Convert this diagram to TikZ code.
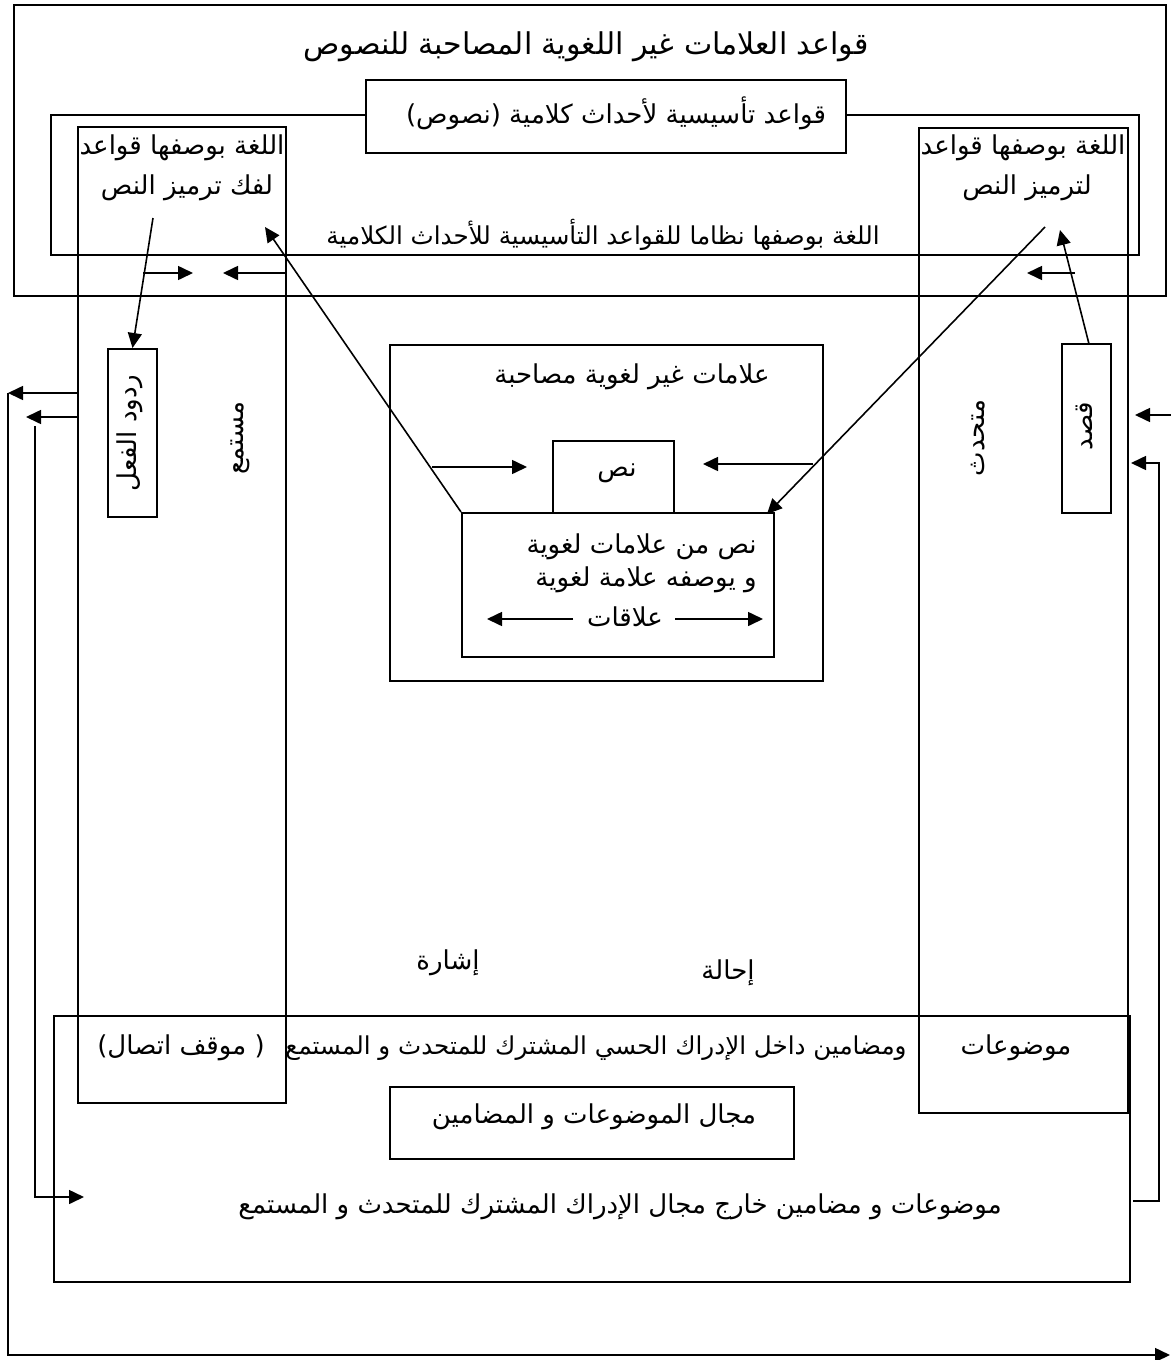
\documentclass[tikz,border=0pt]{standalone}
\usepackage{fontspec}
\usetikzlibrary{arrows.meta,fit}
\newfontfamily\arfont[Script=Arabic]{DejaVu Sans}
\newfontfamily\plainsans{DejaVu Sans}
\TeXXeTstate=1
\tikzset{
  bx/.style={draw, line width=1pt, inner sep=0pt},
  wbx/.style={bx, fill=white},
  con/.style={line width=0.8pt},
  arr/.style={con, -{Triangle[length=7.5pt,width=7pt]}},
  txt/.style={inner sep=0pt, font=\arfont\fontsize{13}{15}\selectfont},
  smalltxt/.style={inner sep=0pt, font=\arfont\fontsize{12.3}{15}\selectfont},
  big/.style={inner sep=0pt, font=\arfont\fontsize{15}{17}\selectfont},
}
\begin{document}
\begin{tikzpicture}[x=0.5pt,y=-0.5pt]
\useasboundingbox (0,0) rectangle (1171,1360);
% boxes
\node[bx, fit={(14,5) (1166,296)}] (top) {};
\node[bx, fit={(51,115) (1139,255)}] (wide) {};
\node[wbx, fit={(366,80) (846,153)}] (qaw) {};
\node[bx, fit={(78,127) (286,1103)}] (ltall) {};
\node[bx, fit={(919,128) (1128,1113)}] (rtall) {};
\node[bx, fit={(108,349) (157,517)}] (rud) {};
\node[bx, fit={(1062,344) (1111,513)}] (qasd) {};
\node[bx, fit={(390,345) (823,681)}] (cen) {};
\node[bx, fit={(553,441) (674,513)}] (nass) {};
\node[bx, fit={(462,513) (774,657)}] (inner) {};
\node[bx, fit={(54,1016) (1130,1282)}] (bot) {};
\node[bx, fit={(390,1087) (794,1159)}] (majal) {};
% texts
\node[big] (t1) at (586,47) {\beginR قواعد العلامات غير اللغوية المصاحبة للنصوص\endR};
\node[txt] (t2) at (616,113) {\beginR قواعد تأسيسية لأحداث كلامية (نصوص)\endR};
\node[smalltxt] (t3) at (603,235) {\beginR اللغة بوصفها نظاما للقواعد التأسيسية للأحداث الكلامية\endR};
\node[txt] (t4a) at (182,148) {\beginR اللغة بوصفها قواعد\endR};
\node[txt] (t4b) at (187,188) {\beginR لفك ترميز النص\endR};
\node[txt] (t5a) at (1023,148) {\beginR اللغة بوصفها قواعد\endR};
\node[txt] (t5b) at (1027,188) {\beginR لترميز النص\endR};
\node[txt] (t6) at (632,377) {\beginR علامات غير لغوية مصاحبة\endR};
\node[txt] (t7) at (617,473) {\beginR نص\endR};
\node[txt, anchor=east] (t8) at (757,547) {\beginR نص من علامات لغوية\endR};
\node[txt, anchor=east] (t9) at (757,580) {\beginR و يوصفه علامة لغوية\endR};
\node[txt] (t10) at (625,617) {\beginR علاقات\endR};
\node[txt, rotate=90] (t11) at (130,433) {\beginR ردود الفعل\endR};
\node[txt, rotate=90] (t12) at (240,438) {\beginR مستمع\endR};
\node[txt, rotate=90] (t13) at (978,438) {\beginR متحدث\endR};
\node[txt, rotate=90] (t14) at (1084,426) {\beginR قصد\endR};
\node[txt] (t15) at (448,963) {\beginR إشارة\endR};
\node[txt] (t16) at (728,973) {\beginR إحالة\endR};
\node[txt] (t17) at (1016,1048) {\beginR موضوعات\endR};
\node[smalltxt] (t18) at (596,1048) {\beginR ومضامين داخل الإدراك الحسي المشترك للمتحدث و المستمع\endR};
\node[txt] (t19) at (181,1048) {{\plainsans(}\beginR موقف اتصال\endR{\plainsans\ )}};
\node[txt] (t20) at (594,1117) {\beginR مجال الموضوعات و المضامين\endR};
\node[txt] (t21) at (620,1207) {\beginR موضوعات و مضامين خارج مجال الإدراك المشترك للمتحدث و المستمع\endR};
% free connector ends
\coordinate (a1) at (153,218);
\coordinate (b1) at (265,227);
\coordinate (c0) at (1045,227);
\coordinate (c1) at (767,514);
\coordinate (d0) at (1089,344);
\coordinate (d1) at (1060,230);
\coordinate (e1a) at (143,273); \coordinate (e1b) at (193,273);
\coordinate (e2a) at (286,273); \coordinate (e2b) at (223,273);
\coordinate (e3a) at (1075,273); \coordinate (e3b) at (1027,273);
\coordinate (f1a) at (432,467); \coordinate (f1b) at (527,467);
\coordinate (f2a) at (813,464); \coordinate (f2b) at (703,464);
\coordinate (g1a) at (573,619); \coordinate (g1b) at (487,619);
\coordinate (g2a) at (675,619); \coordinate (g2b) at (763,619);
\coordinate (h1a) at (78,393); \coordinate (h1b) at (8,393);
\coordinate (h1c) at (8,1355); \coordinate (h1d) at (1170,1355);
\coordinate (h2a) at (78,417); \coordinate (h2b) at (26,417);
\coordinate (h2c) at (35,426); \coordinate (h2d) at (35,1197); \coordinate (h2e) at (84,1197);
\coordinate (i1a) at (1171,415); \coordinate (i1b) at (1135,415);
\coordinate (i2a) at (1133,1201); \coordinate (i2b) at (1159,1201); \coordinate (i2c) at (1159,463); \coordinate (i2d) at (1131,463);
% connectors
\draw[arr] (a1) -- (rud.north);
\draw[arr] (inner.north west) -- (b1);
\draw[arr] (c0) -- (c1);
\draw[arr] (d0) -- (d1);
\draw[arr] (e1a) -- (e1b);
\draw[arr] (e2a) -- (e2b);
\draw[arr] (e3a) -- (e3b);
\draw[arr] (f1a) -- (f1b);
\draw[arr] (f2a) -- (f2b);
\draw[arr] (g1a) -- (g1b);
\draw[arr] (g2a) -- (g2b);
\draw[arr] (h1a) -- (h1b);
\draw[arr] (h1b) -- (h1c) -- (h1d);
\draw[arr] (h2a) -- (h2b);
\draw[arr] (h2c) -- (h2d) -- (h2e);
\draw[arr] (i1a) -- (i1b);
\draw[arr] (i2a) -- (i2b) -- (i2c) -- (i2d);
\end{tikzpicture}
\end{document}
